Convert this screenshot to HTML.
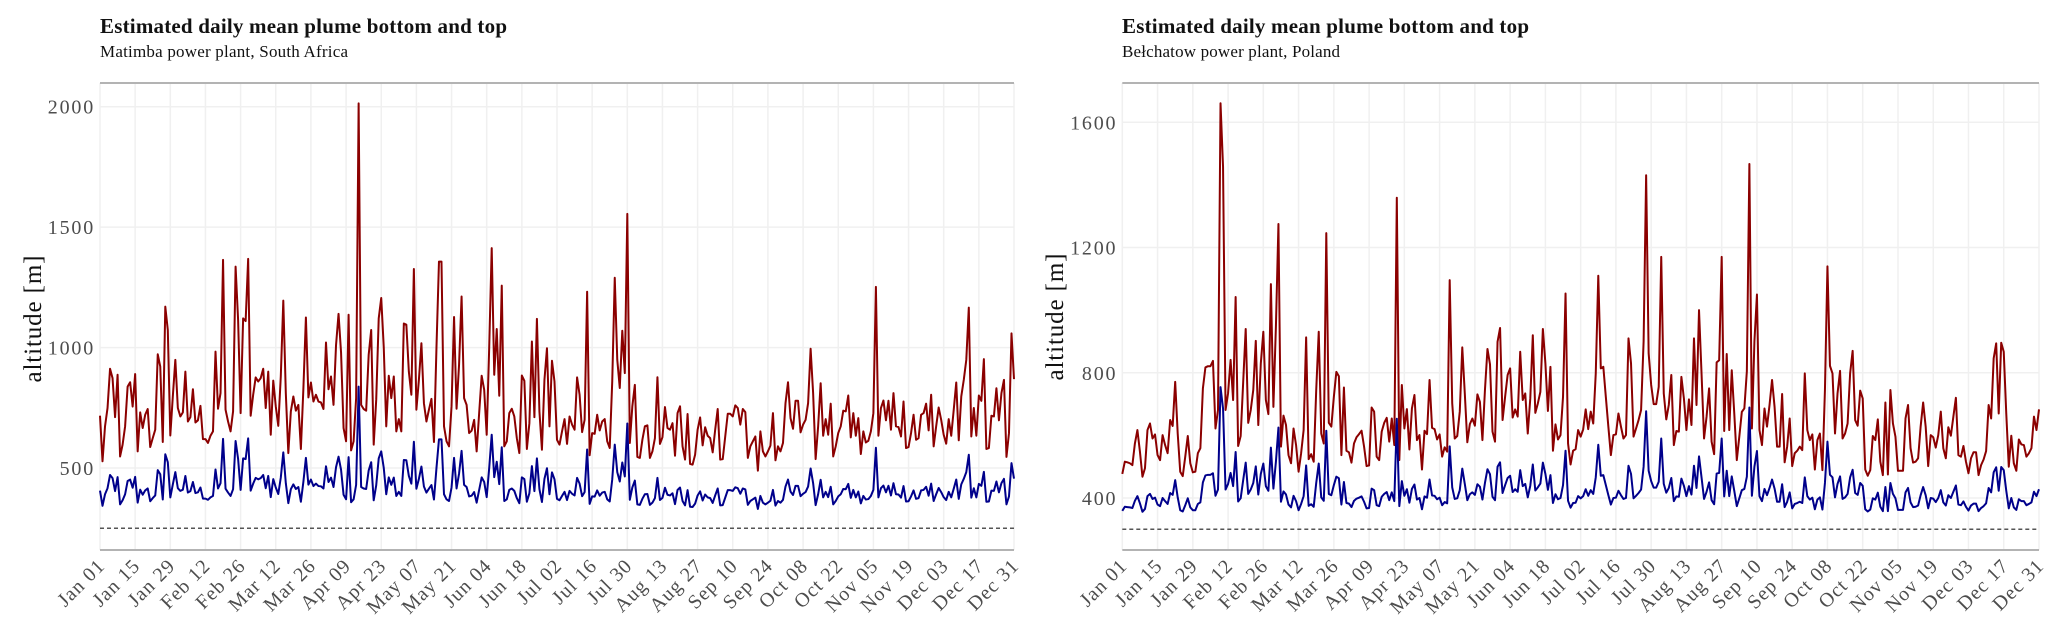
<!DOCTYPE html>
<html lang="en">
<head>
<meta charset="utf-8">
<title>Estimated daily mean plume bottom and top</title>
<style>
html,body{margin:0;padding:0;background:#fff;width:2067px;height:628px;overflow:hidden}
svg{display:block;font-family:"Liberation Serif",serif}
</style>
</head>
<body>
<svg id="chart" xmlns="http://www.w3.org/2000/svg" width="2067" height="628" viewBox="0 0 2067 628">
<rect x="0" y="0" width="2067" height="628" fill="#fff"/>
<text x="100" y="33" font-size="21" font-weight="700" fill="#111" textLength="407">Estimated daily mean plume bottom and top</text>
<text x="100" y="57" font-size="17" fill="#111" textLength="248">Matimba power plant, South Africa</text>
<text x="1122" y="33" font-size="21" font-weight="700" fill="#111" textLength="407">Estimated daily mean plume bottom and top</text>
<text x="1122" y="57" font-size="17" fill="#111" textLength="218">Bełchatow power plant, Poland</text>
<text transform="translate(41,319) rotate(-90)" text-anchor="middle" font-size="25" fill="#111" textLength="127">altitude [m]</text>
<text transform="translate(1063,317) rotate(-90)" text-anchor="middle" font-size="25" fill="#111" textLength="127">altitude [m]</text>
<g id="panel-matimba"></g>
<g id="panel-belchatow"></g>
</svg>
<script>
const dateTicks = ["Jan 01","Jan 15","Jan 29","Feb 12","Feb 26","Mar 12","Mar 26","Apr 09","Apr 23","May 07","May 21","Jun 04","Jun 18","Jul 02","Jul 16","Jul 30","Aug 13","Aug 27","Sep 10","Sep 24","Oct 08","Oct 22","Nov 05","Nov 19","Dec 03","Dec 17","Dec 31"];
const matimbaYTicks = [500,1000,1500,2000];
const belchatowYTicks = [400,800,1200,1600];
const matimbaStack = 250;
const belchatowStack = 300;

const matimbaTop = [717,528,673,749,912,873,711,887,548,597,
673,838,856,755,890,569,731,666,721,745,
587,624,659,972,921,608,1170,1073,635,797,
949,749,714,731,900,693,711,827,689,698,
758,620,620,604,634,652,983,746,811,1364,
742,693,652,735,1336,1115,728,1121,1110,1368,
717,804,876,859,873,912,749,900,638,863,
756,675,880,1195,811,562,735,797,738,762,
579,830,1125,793,855,776,804,776,772,745,
1021,827,880,762,1010,1140,980,666,611,1136,
573,611,790,2014,762,745,738,970,1073,597,
783,1121,1206,1002,673,883,790,880,652,703,
652,1100,1095,900,804,1326,742,866,1018,769,
693,742,787,608,1000,1357,1357,673,611,590,
756,1127,746,930,1212,790,762,645,655,700,
569,728,883,825,638,1000,1413,887,1077,800,
1257,590,611,728,746,714,624,562,884,862,
579,686,1025,711,1119,735,576,866,997,673,
945,859,617,597,652,703,600,714,680,659,
876,804,649,700,1232,553,645,642,721,656,
693,703,611,583,860,1290,950,832,1070,894,
1555,604,756,845,546,542,617,673,677,542,
569,624,877,600,628,753,666,659,686,551,
728,756,590,535,724,517,514,555,659,710,
594,669,634,624,565,659,745,535,537,631,
725,725,714,760,749,680,745,732,542,590,
611,631,489,652,569,548,569,593,728,532,
590,569,604,769,856,707,663,779,779,648,
680,700,769,995,811,537,673,852,634,703,
638,767,548,590,645,673,738,735,801,627,
728,634,707,558,652,606,613,652,728,1252,
634,749,780,698,779,659,811,673,670,631,
776,583,587,645,721,617,624,721,728,767,
656,804,590,673,751,700,638,601,703,634,
742,855,615,797,866,949,1166,631,749,634,
801,779,952,579,583,717,714,831,698,811,
866,546,645,1059,869];

const matimbaBottom = [406,343,391,416,471,458,404,462,349,366,
391,446,452,418,463,356,410,389,407,415,
362,375,386,491,474,369,557,524,378,432,
483,416,405,410,467,398,404,442,396,399,
419,373,373,368,378,384,494,415,437,621,
414,398,384,412,612,538,409,540,537,623,
406,435,459,453,458,471,416,467,379,454,
419,392,460,565,437,354,412,432,413,421,
360,443,542,431,452,425,435,425,424,415,
507,442,460,421,503,547,493,389,370,545,
358,370,430,838,421,415,413,490,524,366,
428,540,569,501,391,461,430,460,384,401,
384,533,532,467,435,609,414,455,506,423,
398,414,429,369,500,619,619,391,370,363,
419,542,415,477,571,430,421,382,385,400,
356,409,461,442,379,500,638,462,526,433,
586,363,370,409,415,405,375,354,461,454,
360,395,508,404,540,412,359,455,499,391,
482,453,372,366,384,401,367,405,393,386,
459,435,383,400,577,351,382,381,407,385,
398,401,370,361,453,597,483,444,523,465,
685,368,419,448,349,347,372,391,392,347,
356,375,459,367,376,418,389,386,395,350,
409,419,363,345,408,339,338,352,386,403,
365,390,378,375,355,386,415,345,346,377,
408,408,405,420,416,393,415,411,347,363,
370,377,330,384,356,349,356,364,409,344,
363,356,368,423,452,402,388,426,426,383,
393,400,423,498,437,346,391,451,378,401,
379,422,349,363,382,391,413,412,434,376,
409,378,402,353,384,369,371,384,409,584,
378,416,427,399,426,386,437,391,390,377,
425,361,362,382,407,372,375,407,409,422,
385,435,363,391,417,400,379,367,401,378,
414,452,372,432,455,483,555,377,416,378,
434,426,484,360,361,406,405,444,399,437,
455,349,382,520,456];

const belchatowTop = [477,516,514,511,505,574,617,548,468,495,
617,638,590,603,537,521,601,569,543,649,
630,771,606,484,470,532,598,511,482,484,
543,559,750,817,821,821,838,622,681,1661,
1458,681,735,841,713,1042,566,598,770,940,
640,681,745,902,633,830,931,713,668,1083,
691,949,1275,564,663,633,537,511,622,569,
484,543,617,913,524,540,516,745,931,606,
574,1246,640,628,723,803,789,537,753,551,
546,513,574,594,604,615,564,502,504,689,
676,532,521,612,640,656,580,654,569,1359,
521,761,622,684,555,686,729,585,601,491,
615,604,777,624,620,587,603,532,562,548,
1096,703,590,598,676,881,734,578,636,654,
631,731,707,585,745,876,827,612,580,899,
943,649,723,793,814,657,683,660,867,713,
734,606,718,920,672,702,739,940,830,678,
819,551,635,587,601,723,1053,574,507,551,
556,617,596,619,683,620,676,638,798,1110,
814,819,723,628,537,601,603,670,628,590,
601,910,830,596,622,649,681,900,1431,862,
761,700,700,755,1170,734,651,697,793,569,
614,612,787,718,617,715,633,910,697,1000,
798,590,660,750,580,540,833,840,1170,614,
860,617,808,670,521,596,675,686,805,1467,
622,900,1050,617,569,686,628,697,777,691,
564,564,732,514,564,654,502,543,551,564,
553,798,617,585,603,491,585,606,489,745,
1140,822,798,606,734,806,590,606,638,798,
870,649,631,743,718,491,471,489,598,585,
651,516,473,705,475,745,638,596,487,487,
487,654,697,559,513,516,527,628,705,628,
502,601,594,561,601,676,559,527,626,599,
660,720,537,532,566,516,479,527,546,546,
473,505,523,550,697,654,846,894,670,896,
867,670,500,599,511,487,587,571,569,532,
543,559,660,617,683];

const belchatowBottom = [359,372,371,370,368,391,406,383,356,365,
406,413,397,401,379,374,400,390,381,416,
410,457,402,361,357,377,399,370,361,361,
381,386,450,472,474,474,479,407,427,754,
686,427,445,480,438,547,389,399,457,513,
413,427,448,501,411,477,510,438,423,561,
430,516,625,388,421,411,379,370,407,390,
361,381,406,504,375,380,372,448,510,402,
391,615,413,409,441,468,463,379,451,384,
382,371,391,398,401,405,388,367,368,430,
425,377,374,404,413,419,393,418,390,653,
374,454,407,428,385,429,443,395,400,364,
405,401,459,408,407,396,401,377,387,383,
565,434,397,399,425,494,445,393,412,418,
410,444,436,395,448,492,476,404,393,500,
514,416,441,464,471,419,428,420,489,438,
445,402,439,507,424,434,446,513,477,426,
473,384,412,396,400,441,551,391,369,384,
385,406,399,406,428,407,425,413,466,570,
471,473,441,409,379,400,401,423,409,397,
400,503,477,399,407,416,427,500,677,487,
454,433,433,452,590,445,417,432,464,390,
405,404,462,439,406,438,411,503,432,533,
466,397,420,450,393,380,478,480,590,405,
487,406,469,423,374,399,425,429,468,689,
407,500,550,406,390,429,409,432,459,430,
388,388,444,371,388,418,367,381,384,388,
384,466,406,395,401,364,395,402,363,448,
580,474,466,402,445,469,397,402,413,466,
490,416,410,448,439,364,357,363,399,395,
417,372,358,435,358,448,413,399,362,362,
362,418,432,386,371,372,376,409,435,409,
367,400,398,387,400,425,386,376,409,400,
420,440,379,377,389,372,360,376,382,382,
358,368,374,383,432,418,482,498,423,499,
489,423,367,400,370,362,396,390,390,377,
381,386,420,406,428];

const SVGNS = "http://www.w3.org/2000/svg";

function xScale(day, left, right, lastDay) {
  return left + (right - left) * day / lastDay;
}
function yScaleFactory(v0, y0, v1, y1) {
  return function (v) { return y0 + (v - v0) * (y1 - y0) / (v1 - v0); };
}
function make(tag, parent) {
  const el = document.createElementNS(SVGNS, tag);
  parent.appendChild(el);
  return el;
}

function drawPanel(groupId, prefix, left, right, yScale, yTicks, stack, topSeries, bottomSeries) {
  const g = document.getElementById(groupId);
  const panelTop = 83, panelBottom = 550;
  const lastDay = topSeries.length - 1;
  const tickStep = lastDay / (dateTicks.length - 1);

  yTicks.forEach(function (v) {
    const y = yScale(v);
    const line = make("line", g);
    
    
    line.setAttribute("x1", left); line.setAttribute("x2", right);
    line.setAttribute("y1", y); line.setAttribute("y2", y);
    line.setAttribute("stroke", "#f0f0f0"); line.setAttribute("stroke-width", "1.5");
    const t = make("text", g);
    
    
    t.setAttribute("x", left - 5); t.setAttribute("y", y + 7);
    t.setAttribute("text-anchor", "end");
    t.setAttribute("font-size", "20");
    t.setAttribute("letter-spacing", "1.8");
    t.setAttribute("fill", "#4d4d4d");
    t.textContent = String(v);
  });

  dateTicks.forEach(function (label, i) {
    const x = xScale(i * tickStep, left, right, lastDay);
    const line = make("line", g);
    
    
    line.setAttribute("x1", x); line.setAttribute("x2", x);
    line.setAttribute("y1", panelTop); line.setAttribute("y2", panelBottom);
    line.setAttribute("stroke", "#f0f0f0"); line.setAttribute("stroke-width", "1.5");
    const t = make("text", g);
    
    
    t.setAttribute("transform", "translate(" + (x + 6) + ",567) rotate(-45)");
    t.setAttribute("text-anchor", "end");
    t.setAttribute("font-size", "20");
    t.setAttribute("letter-spacing", "1");
    t.setAttribute("fill", "#4d4d4d");
    t.textContent = label;
  });

  const topBorder = make("line", g);
  
  
  topBorder.setAttribute("x1", left); topBorder.setAttribute("x2", right);
  topBorder.setAttribute("y1", panelTop); topBorder.setAttribute("y2", panelTop);
  topBorder.setAttribute("stroke", "#b3b3b3"); topBorder.setAttribute("stroke-width", "2");

  const bottomBorder = make("line", g);
  
  
  bottomBorder.setAttribute("x1", left); bottomBorder.setAttribute("x2", right);
  bottomBorder.setAttribute("y1", panelBottom); bottomBorder.setAttribute("y2", panelBottom);
  bottomBorder.setAttribute("stroke", "#b3b3b3"); bottomBorder.setAttribute("stroke-width", "2");

  const dash = make("line", g);
  
  
  dash.setAttribute("x1", left); dash.setAttribute("x2", right);
  dash.setAttribute("y1", yScale(stack)); dash.setAttribute("y2", yScale(stack));
  dash.setAttribute("stroke", "#555"); dash.setAttribute("stroke-width", "1.5");
  dash.setAttribute("stroke-dasharray", "4 3");

  function pts(series) {
    return series.map(function (v, d) {
      return xScale(d, left, right, lastDay).toFixed(2) + "," + yScale(v).toFixed(2);
    }).join(" ");
  }
  const topLine = make("polyline", g);
  
  
  topLine.setAttribute("points", pts(topSeries));
  topLine.setAttribute("fill", "none");
  topLine.setAttribute("stroke", "#8b0000");
  topLine.setAttribute("stroke-width", "2");
  topLine.setAttribute("stroke-linejoin", "round");

  const bottomLine = make("polyline", g);
  
  
  bottomLine.setAttribute("points", pts(bottomSeries));
  bottomLine.setAttribute("fill", "none");
  bottomLine.setAttribute("stroke", "#00008b");
  bottomLine.setAttribute("stroke-width", "2");
  bottomLine.setAttribute("stroke-linejoin", "round");
}

drawPanel("panel-matimba", "matimba", 100, 1014, yScaleFactory(500, 468, 2000, 106.7), matimbaYTicks, matimbaStack, matimbaTop, matimbaBottom);
drawPanel("panel-belchatow", "belchatow", 1122.3, 2039, yScaleFactory(400, 498, 1600, 122.3), belchatowYTicks, belchatowStack, belchatowTop, belchatowBottom);
</script>
</body>
</html>
